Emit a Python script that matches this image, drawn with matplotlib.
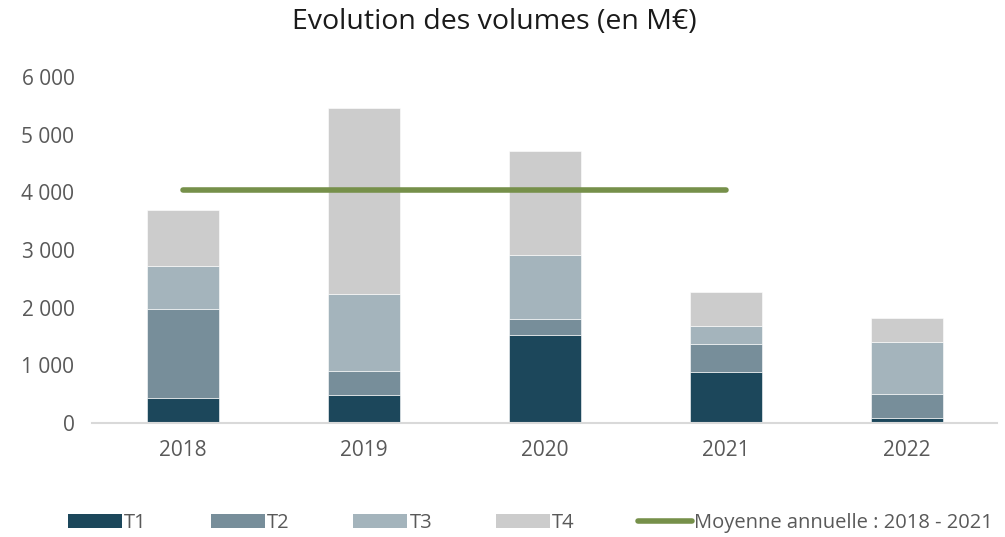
import numpy as np
import matplotlib
matplotlib.use("Agg")
import matplotlib.pyplot as plt
from matplotlib.patches import Patch
from matplotlib.lines import Line2D
from matplotlib.ticker import FuncFormatter

plt.rcParams['font.family'] = ['Open Sans', 'DejaVu Sans']

# data (M€)
years = ['2018', '2019', '2020', '2021', '2022']
t1 = [430, 490, 1530, 880, 90]
t2 = [1550, 420, 270, 490, 410]
t3 = [740, 1330, 1110, 320, 910]
t4 = [980, 3220, 1810, 580, 410]
series_names = ['T1', 'T2', 'T3', 'T4']
colors = ['#1c475b', '#778e9a', '#a4b4bc', '#cccccc']
avg_years = ['2018', '2019', '2020', '2021']

totals = np.array(t1) + np.array(t2) + np.array(t3) + np.array(t4)
avg = totals[:len(avg_years)].mean()

fig = plt.figure(figsize=(10.05, 5.37), dpi=100)
ax = fig.add_axes([0.092, 0.2123, 0.9005, 0.6443])

x = np.arange(len(years))
bottom = np.zeros(len(years))
for vals, c in zip([t1, t2, t3, t4], colors):
    ax.bar(x, vals, width=0.4, bottom=bottom, color=c, edgecolor='white', linewidth=0.4)
    bottom += np.array(vals)

xa = np.arange(len(avg_years))
ax.plot(xa, [avg] * len(xa), color='#76904a', linewidth=4, solid_capstyle='round')

ax.set_xlim(-0.5, len(years) - 0.5)
ax.set_ylim(0, 6000)
ax.set_yticks(range(0, 6001, 1000))
ax.yaxis.set_major_formatter(FuncFormatter(lambda v, p: f'{int(v):,}'.replace(',', ' ')))
ax.set_xticks(x)
ax.set_xticklabels(years)

for s in ['top', 'right', 'left']:
    ax.spines[s].set_visible(False)
ax.spines['bottom'].set_color('#d9d9d9')
ax.spines['bottom'].set_linewidth(1.5)
ax.tick_params(axis='both', length=0, labelsize=15, colors='#595959')
ax.tick_params(axis='y', pad=13)
ax.tick_params(axis='x', pad=12)

fig.suptitle('Evolution des volumes (en M€)', x=0.492, y=0.985, fontsize=20.5, color='#1a1a1a')

handles = [Patch(facecolor=c) for c in colors]
handles.append(Line2D([0], [0], color='#76904a', linewidth=4, solid_capstyle='round'))
labels = series_names + ['Moyenne annuelle : 2018 - 2021']
fig.legend(handles, labels, loc='center', bbox_to_anchor=(0.528, 0.026), ncol=5, frameon=False,
           fontsize=14.5, labelcolor='#595959', handlelength=2.7, handleheight=0.7,
           handletextpad=0.1, columnspacing=3.15)

fig.savefig('out.png', dpi=100)
